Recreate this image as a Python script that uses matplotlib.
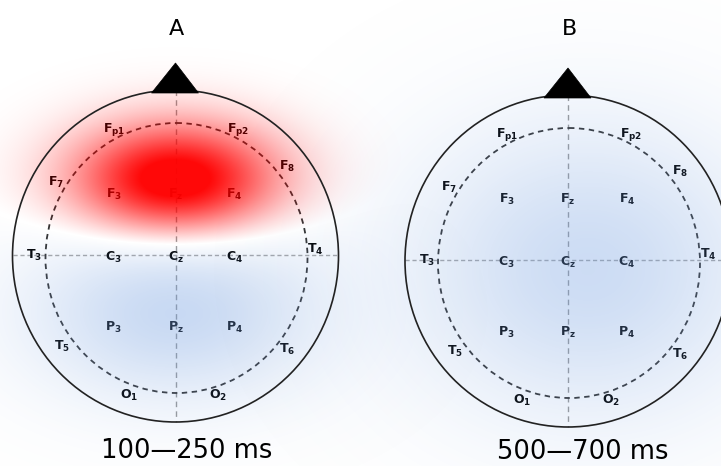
import matplotlib.pyplot as plt
import numpy as np
from matplotlib.patches import Ellipse, Polygon

# electrode names (base letter, subscript) and position on the head map,
# offsets in pixels from the head centre (x right, y down)
electrodes = ['Fp1', 'Fp2', 'F7', 'F8', 'F3', 'Fz', 'F4',
              'T3', 'C3', 'Cz', 'C4', 'T4',
              'P3', 'Pz', 'P4', 'T5', 'T6', 'O1', 'O2']
elec_x = [-61, 63, -119, 112, -61, 0, 59,
          -141, -62, 0, 59, 140,
          -62, 0, 59, -113, 112, -46, 43]
elec_y = [-126, -126, -74, -90, -62, -62, -62,
          -1, 1, 1, 1, -7,
          71, 71, 71, 90, 93, 139, 139]

# activity sources per time window: (dx, dy, sigma_x, sigma_y, amplitude)
# positive = red (activation), negative = blue; units of head radius
windows = ['100\u2014250 ms', '500\u2014700 ms']
panel_names = ['A', 'B']
sources = [
    [(0.0, -0.45, 0.43, 0.24, 1.2), (0.0, 0.33, 0.62, 0.38, -0.6)],
    [(0.12, 0.05, 0.75, 0.62, -0.55)],
]

W, H = 721, 466
centers = [(175.5, 256), (568, 261)]
RX, RY = 163, 166

fig = plt.figure(figsize=(W / 100, H / 100), dpi=100)
ax = fig.add_axes([0, 0, 1, 1])
ax.set_xlim(0, W)
ax.set_ylim(H, 0)
ax.axis('off')

gx, gy = np.meshgrid(np.arange(W) + 0.5, np.arange(H) + 0.5)


def label(name):
    base, sub = name[0], name[1:]
    return r'$\mathbf{%s}_{\mathbf{%s}}$' % (base, sub)


for k, (cx, cy) in enumerate(centers):
    # heat map
    v = np.zeros_like(gx)
    for dx, dy, sx, sy, a in sources[k]:
        ux = (gx - cx) / RY - dx
        uy = (gy - cy) / RY - dy
        v += a * np.exp(-0.5 * ((ux / sx) ** 2 + (uy / sy) ** 2))
    rgba = np.zeros((H, W, 4))
    pos = np.clip(v, 0, None)
    neg = np.clip(-v, 0, None)
    red = np.array([1.0, 0.0, 0.0])
    blue = np.array([0.45, 0.62, 0.88])
    ar = np.clip(pos, 0, 1) * 0.97
    ab = np.clip(neg, 0, 1) * 0.65
    atot = ar + ab * (1 - ar)
    with np.errstate(invalid='ignore', divide='ignore'):
        for c in range(3):
            rgba[..., c] = np.where(atot > 0, (red[c] * ar + blue[c] * ab * (1 - ar)) / atot, 1)
    rgba[..., 3] = atot
    ax.imshow(rgba, extent=(0, W, H, 0), interpolation='bilinear', zorder=3)

    # mid lines
    ax.plot([cx, cx], [cy - RY, cy + RY], color='#9a9a9a', lw=1.0,
            ls=(0, (4, 3)), zorder=2)
    ax.plot([cx - RX, cx + RX], [cy - 1, cy - 1], color='#a8a8a8', lw=1.0,
            ls=(0, (3, 2)), zorder=2)

    # inner dashed ring
    ax.add_patch(Ellipse((cx + 1, cy + 2), 2 * 131, 2 * 135, fill=False,
                         ec='#333333', lw=1.3, ls=(0, (3, 2.5)), zorder=2))

    # head outline and nose
    ax.add_patch(Ellipse((cx, cy), 2 * RX, 2 * RY, fill=False, ec='#222222',
                         lw=1.2, zorder=5))
    ax.add_patch(Polygon([(cx - 24, cy - 163), (cx, cy - 193), (cx + 23, cy - 163)],
                         closed=True, fc='black', ec='black', lw=0.5, zorder=5))

    for name, ex, ey in zip(electrodes, elec_x, elec_y):
        ax.text(cx + ex, cy + ey, label(name), fontsize=9, ha='center',
                va='center', color='black', zorder=2)

    ax.text(cx + 1, 29, panel_names[k], fontsize=16, ha='center', va='center')
    ax.text(cx + 11 + 4 * k, 458 + 1 * k, windows[k], fontsize=18.5, ha='center',
            va='baseline')

fig.savefig('out.png', dpi=100)
